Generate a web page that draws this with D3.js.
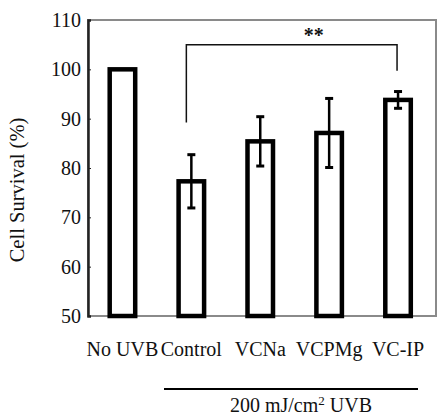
<!DOCTYPE html>
<html>
<head>
<meta charset="utf-8">
<script src="https://cdn.jsdelivr.net/npm/d3@7"></script>
<style>
  body { margin: 0; background: #fff; }
</style>
</head>
<body>
<script type="text/javascript">
var w = 438;
var h = 417;
var serif = "'Liberation Serif', 'Times New Roman', Times, serif";

// data
var groups = ["No UVB", "Control", "VCNa", "VCPMg", "VC-IP"];
var survival = [100, 77.3, 85.4, 87.1, 93.8];
var errors = [0, 5.4, 5.0, 7.0, 1.7];
var yTicks = [50, 60, 70, 80, 90, 100, 110];
var sigPair = ["Control", "VC-IP"];
var sigEnds = [89.2, 99.7];   // lower ends of the bracket legs
var sigLevel = 105;           // height of the bracket bar
var sigLabel = "**";

var Xscale = d3.scalePoint().domain(groups).range([88, 432.5]).padding(0.5);
var Yscale = d3.scaleLinear().domain([50, 110]).range([316, 20]);

//CREATE MAIN SVG ELEMENT
const svg = d3.select("body").append("svg").attr("width", w).attr("height", h)
  .style("font-family", serif);

//FRAME
svg.append("rect").attr("x", 88).attr("y", Yscale(110)).attr("width", 436 - 88)
  .attr("height", Yscale(50) - Yscale(110))
  .attr("fill", "none").attr("stroke", "#8a8a8a").attr("stroke-width", 2);

//Y AXIS
var yAxis = d3.axisLeft(Yscale).tickValues(yTicks).tickSize(-3).tickPadding(7);
var gy = svg.append("g").attr("transform", "translate(88,0)").call(yAxis)
  .attr("font-family", null).attr("font-size", null);
gy.select(".domain").attr("stroke", "#222").attr("stroke-width", 2.5);
gy.selectAll(".tick line").attr("stroke", "#222");
gy.selectAll(".tick text").style("font-size", "20px").style("font-family", serif).attr("fill", "#111");

svg.append("text").attr("transform", "translate(24,190) rotate(-90)")
  .attr("text-anchor", "middle").style("font-size", "20.5px").attr("fill", "#111").text("Cell Survival (%)");

//BARS
var rows = groups.map(function (g, i) { return { g: g, v: survival[i], e: errors[i] }; });
var barW = 25.5;

svg.selectAll(".bar").data(rows).enter().append("rect").attr("class", "bar")
  .attr("x", function (d) { return Xscale(d.g) - barW / 2; })
  .attr("y", function (d) { return Yscale(d.v); })
  .attr("width", barW)
  .attr("height", function (d) { return Yscale(50) - Yscale(d.v); })
  .attr("fill", "white").attr("stroke", "#000").attr("stroke-width", 4.5);

//ERROR BARS
var eb = svg.selectAll(".err").data(rows.filter(function (d) { return d.e > 0; })).enter().append("g").attr("class", "err");
eb.append("line")
  .attr("x1", function (d) { return Xscale(d.g); }).attr("x2", function (d) { return Xscale(d.g); })
  .attr("y1", function (d) { return Yscale(d.v + d.e); }).attr("y2", function (d) { return Yscale(d.v - d.e); })
  .attr("stroke", "#000").attr("stroke-width", 2.5);
[1, -1].forEach(function (s) {
  eb.append("line")
    .attr("x1", function (d) { return Xscale(d.g) - 4; }).attr("x2", function (d) { return Xscale(d.g) + 4; })
    .attr("y1", function (d) { return Yscale(d.v + s * d.e); }).attr("y2", function (d) { return Yscale(d.v + s * d.e); })
    .attr("stroke", "#000").attr("stroke-width", 3);
});

//SIGNIFICANCE BRACKET
var bx1 = Xscale(sigPair[0]) - 5, bx2 = Xscale(sigPair[1]) - 1;
svg.append("path")
  .attr("d", "M" + bx1 + "," + Yscale(sigEnds[0]) + "V" + Yscale(sigLevel) + "H" + bx2 + "V" + Yscale(sigEnds[1]))
  .attr("fill", "none").attr("stroke", "#111").attr("stroke-width", 1.5);
svg.append("text").attr("x", (bx1 + bx2) / 2 + 22).attr("y", Yscale(sigLevel) - 3)
  .attr("text-anchor", "middle").style("font-size", "20px").attr("font-weight", "bold").attr("fill", "#111").text(sigLabel);

//X LABELS
svg.selectAll(".xl").data(groups).enter().append("text").attr("class", "xl")
  .attr("x", function (d) { return Xscale(d); }).attr("y", 356)
  .attr("text-anchor", "middle").style("font-size", "20px").attr("fill", "#111").text(function (d) { return d; });

//UVB DOSE LINE
svg.append("line").attr("x1", 164).attr("x2", 418).attr("y1", 389).attr("y2", 389)
  .attr("stroke", "#000").attr("stroke-width", 1.8);
var dose = svg.append("text").attr("x", 301).attr("y", 412).attr("text-anchor", "middle")
  .style("font-size", "20px").attr("fill", "#111");
dose.append("tspan").text("200 mJ/cm");
dose.append("tspan").style("font-size", "13px").attr("dy", -7).text("2");
dose.append("tspan").attr("dy", 7).text(" UVB");
</script>
</body>
</html>
